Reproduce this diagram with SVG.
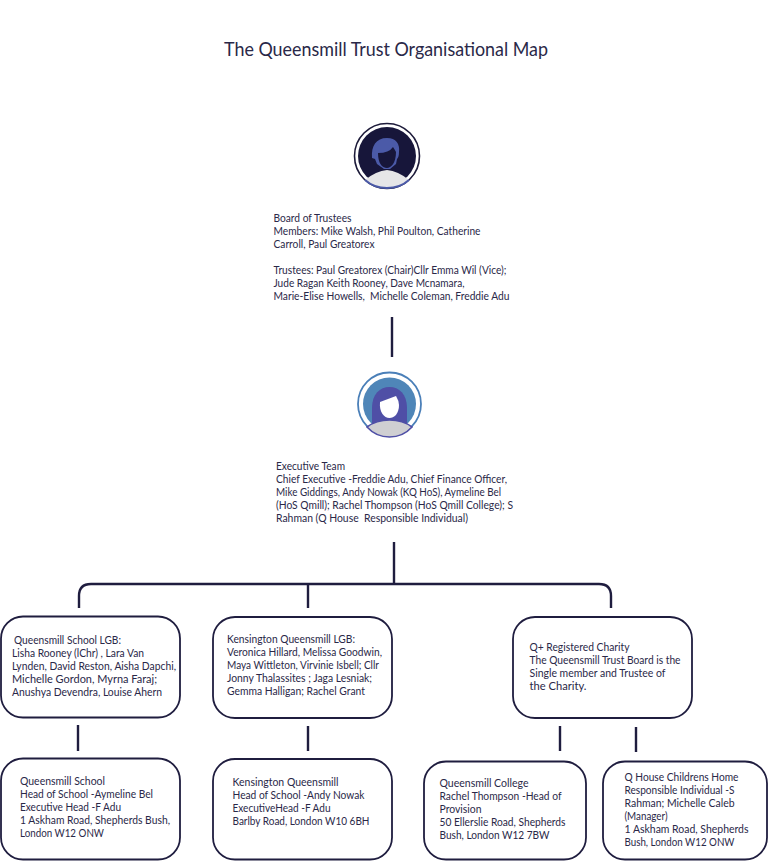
<svg xmlns="http://www.w3.org/2000/svg" width="768" height="861" viewBox="0 0 768 861">
<style>
text{font-family:Lato,"Open Sans","Liberation Sans",sans-serif;font-size:10.8px;fill:#2a2848}
.title{font-size:18.4px}
.box{fill:#fff;stroke:#1f1d3f;stroke-width:1.8}
.c{fill:none;stroke:#1f1d3f;stroke-width:2.4}
</style>
<rect width="768" height="861" fill="#fff"/>
<text class="title" lengthAdjust="spacingAndGlyphs" x="224" y="56" textLength="324">The Queensmill Trust Organisational Map</text>
<g id="connectors">
<path class="c" d="M392 317V357"/>
<path class="c" d="M394 542V584"/>
<path class="c" d="M79 608V596Q79 584 91 584H599Q611 584 611 596V608"/>
<path class="c" d="M308 584V608"/>
<path class="c" d="M78 725V751"/>
<path class="c" d="M308 726V751"/>
<path class="c" d="M560 726V751"/>
<path class="c" d="M636 727V752"/>
</g>
<g id="board">
<g id="board-icon">
<circle cx="387" cy="156" r="32.500" fill="#fff" stroke="#1d1b3a" stroke-width="1.6"/>
<circle cx="387" cy="156" r="29" fill="#17163a"/>
<path d="M365 180Q376 171 387 170Q398 171 409 180Q400 188 387 188Q374 188 365 180Z" fill="#e6e6e8"/>
<path d="M365 180Q374 188 387 188Q400 188 409 180" fill="none" stroke="#4b5aa8" stroke-width="2"/>
<path d="M372 158C371 146 376 138 387 138C396 138 400 144 399 152C399 156 398 158 397 159L396 164L390 169H384L377 164L375 159Z" fill="#4b5aa8"/>
<path d="M378 153Q389 153 393 147Q395 150 396 152C396 163 391 168 387 168C382 168 378 163 378 153Z" fill="#17163a"/>
</g>
<text lengthAdjust="spacingAndGlyphs" x="273.500" y="222" textLength="78">Board of Trustees</text>
<text lengthAdjust="spacingAndGlyphs" x="273.500" y="235" textLength="207">Members: Mike Walsh, Phil Poulton, Catherine</text>
<text lengthAdjust="spacingAndGlyphs" x="273.500" y="248" textLength="101">Carroll, Paul Greatorex</text>
<text lengthAdjust="spacingAndGlyphs" x="273.500" y="274" textLength="233">Trustees: Paul Greatorex (Chair)Cllr Emma Wil (Vice);</text>
<text lengthAdjust="spacingAndGlyphs" x="273.500" y="287" textLength="191">Jude Ragan Keith Rooney, Dave Mcnamara,</text>
<text lengthAdjust="spacingAndGlyphs" x="273.500" y="300" textLength="236" xml:space="preserve">Marie-Elise Howells,  Michelle Coleman, Freddie Adu</text>
</g>
<g id="executive">
<g id="exec-icon">
<circle cx="389.500" cy="404" r="31.500" fill="#fff" stroke="#4a7fb8" stroke-width="1.8"/>
<circle cx="389.500" cy="404" r="26.500" fill="#4f86b8"/>
<path d="M372 424V408C372 394 380 387 389.500 387C399 387 407 394 407 408V424Z" fill="#4f4fa6"/>
<path d="M367 427Q376 420 389.500 420Q403 420 412 427Q403 437 389.500 437Q376 437 367 427Z" fill="#cfcfd2" stroke="#4f4fa6" stroke-width="1.600"/>
<path d="M380 402L396 396Q399 401 399 405C399 414 394 418 389.500 418C384 418 379 412 380 402Z" fill="#fff"/>
</g>
<text lengthAdjust="spacingAndGlyphs" x="276" y="470" textLength="69">Executive Team</text>
<text lengthAdjust="spacingAndGlyphs" x="276" y="483" textLength="231">Chief Executive -Freddie Adu, Chief Finance Officer,</text>
<text lengthAdjust="spacingAndGlyphs" x="276" y="496" textLength="225">Mike Giddings, Andy Nowak (KQ HoS), Aymeline Bel</text>
<text lengthAdjust="spacingAndGlyphs" x="276" y="509" textLength="237">(HoS Qmill); Rachel Thompson (HoS Qmill College); S</text>
<text lengthAdjust="spacingAndGlyphs" x="276" y="522" textLength="192" xml:space="preserve">Rahman (Q House  Responsible Individual)</text>
</g>
<g id="lgb-school">
<rect class="box" x="1" y="616.500" width="179" height="101" rx="22"/>
<text lengthAdjust="spacingAndGlyphs" x="14" y="644" textLength="107">Queensmill School LGB:</text>
<text lengthAdjust="spacingAndGlyphs" x="12" y="657" textLength="132">Lisha Rooney (lChr) , Lara Van</text>
<text lengthAdjust="spacingAndGlyphs" x="12" y="670" textLength="164">Lynden, David Reston, Aisha Dapchi,</text>
<text lengthAdjust="spacingAndGlyphs" x="12" y="683" textLength="145">Michelle Gordon, Myrna Faraj;</text>
<text lengthAdjust="spacingAndGlyphs" x="12" y="696" textLength="150">Anushya Devendra, Louise Ahern</text>
</g>
<g id="lgb-kensington">
<rect class="box" x="213" y="617" width="179" height="101" rx="22"/>
<text lengthAdjust="spacingAndGlyphs" x="227" y="643" textLength="128">Kensington Queensmill LGB:</text>
<text lengthAdjust="spacingAndGlyphs" x="227" y="656" textLength="155">Veronica Hillard, Melissa Goodwin,</text>
<text lengthAdjust="spacingAndGlyphs" x="227" y="669" textLength="152">Maya Wittleton, Virvinie Isbell; Cllr</text>
<text lengthAdjust="spacingAndGlyphs" x="227" y="682" textLength="145">Jonny Thalassites ; Jaga Lesniak;</text>
<text lengthAdjust="spacingAndGlyphs" x="227" y="695" textLength="138">Gemma Halligan; Rachel Grant</text>
</g>
<g id="q-plus">
<rect class="box" x="513" y="617" width="179" height="101" rx="22"/>
<text lengthAdjust="spacingAndGlyphs" x="529.500" y="651" textLength="100">Q+ Registered Charity</text>
<text lengthAdjust="spacingAndGlyphs" x="529.500" y="664" textLength="151">The Queensmill Trust Board is the</text>
<text lengthAdjust="spacingAndGlyphs" x="529.500" y="677" textLength="136">Single member and Trustee of</text>
<text lengthAdjust="spacingAndGlyphs" x="529.500" y="690" textLength="57">the Charity.</text>
</g>
<g id="queensmill-school">
<rect class="box" x="1" y="758.500" width="179" height="101" rx="22"/>
<text lengthAdjust="spacingAndGlyphs" x="20" y="785" textLength="85">Queensmill School</text>
<text lengthAdjust="spacingAndGlyphs" x="20" y="798" textLength="133">Head of School -Aymeline Bel</text>
<text lengthAdjust="spacingAndGlyphs" x="20" y="811" textLength="101">Executive Head -F Adu</text>
<text lengthAdjust="spacingAndGlyphs" x="20" y="824" textLength="150">1 Askham Road, Shepherds Bush,</text>
<text lengthAdjust="spacingAndGlyphs" x="20" y="837" textLength="84">London W12 ONW</text>
</g>
<g id="kensington-queensmill">
<rect class="box" x="213" y="759" width="179" height="100.500" rx="22"/>
<text lengthAdjust="spacingAndGlyphs" x="232.500" y="786" textLength="106">Kensington Queensmill</text>
<text lengthAdjust="spacingAndGlyphs" x="232.500" y="799" textLength="132">Head of School -Andy Nowak</text>
<text lengthAdjust="spacingAndGlyphs" x="232.500" y="812" textLength="98">ExecutiveHead -F Adu</text>
<text lengthAdjust="spacingAndGlyphs" x="232.500" y="825" textLength="137">Barlby Road, London W10 6BH</text>
</g>
<g id="queensmill-college">
<rect class="box" x="424" y="761.500" width="162" height="98" rx="22"/>
<text lengthAdjust="spacingAndGlyphs" x="439.500" y="787" textLength="89">Queensmill College</text>
<text lengthAdjust="spacingAndGlyphs" x="439.500" y="800" textLength="122">Rachel Thompson -Head of</text>
<text lengthAdjust="spacingAndGlyphs" x="439.500" y="813" textLength="42">Provision</text>
<text lengthAdjust="spacingAndGlyphs" x="439.500" y="826" textLength="126">50 Ellerslie Road, Shepherds</text>
<text lengthAdjust="spacingAndGlyphs" x="439.500" y="839" textLength="110">Bush, London W12 7BW</text>
</g>
<g id="q-house">
<rect class="box" x="603" y="761.500" width="164" height="98" rx="22"/>
<text lengthAdjust="spacingAndGlyphs" x="624.500" y="781" textLength="114">Q House Childrens Home</text>
<text lengthAdjust="spacingAndGlyphs" x="624.500" y="794" textLength="110">Responsible Individual -S</text>
<text lengthAdjust="spacingAndGlyphs" x="624.500" y="807" textLength="110">Rahman; Michelle Caleb</text>
<text lengthAdjust="spacingAndGlyphs" x="624.500" y="820" textLength="43">(Manager)</text>
<text lengthAdjust="spacingAndGlyphs" x="624.500" y="833" textLength="124">1 Askham Road, Shepherds</text>
<text lengthAdjust="spacingAndGlyphs" x="624.500" y="846" textLength="110">Bush, London W12 ONW</text>
</g>
</svg>
